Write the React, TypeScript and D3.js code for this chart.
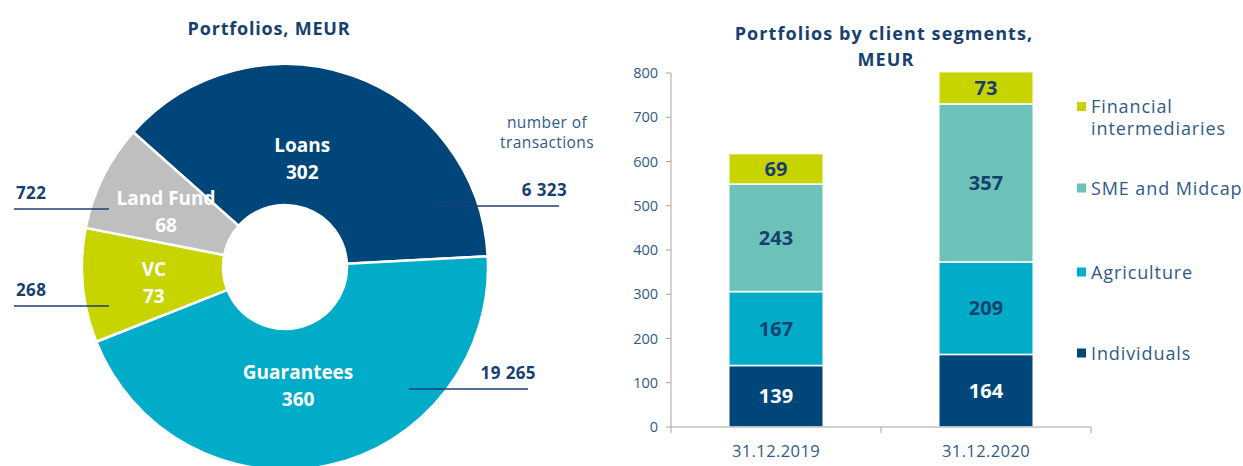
import React from 'react';
import * as d3 from 'd3';

// ---------- Data ----------
const portfolioTypes = ['Loans', 'Guarantees', 'VC', 'Land Fund'];
const portfolioValues = [302, 360, 73, 68];
const transactionCounts = ['6 323', '19 265', '268', '722'];
const portfolioColors = ['#00467a', '#00acc8', '#c8d400', '#bfbfbf'];

const segmentDates = ['31.12.2019', '31.12.2020'];
const segmentNames = ['Individuals', 'Agriculture', 'SME and Midcap', 'Financial intermediaries'];
const individuals = [139, 164];
const agriculture = [167, 209];
const smeMidcap = [243, 357];
const financialIntermediaries = [69, 73];
const segmentColors = ['#00467a', '#00acc8', '#6cc2b8', '#c8d400'];
const segmentLabelColors = ['#ffffff', '#16416f', '#16416f', '#16416f'];
const yTicks = [0, 100, 200, 300, 400, 500, 600, 700, 800];

// ---------- Layout ----------
const W = 1243;
const H = 466;
const FONT = "'Open Sans', 'DejaVu Sans', sans-serif";
const NAVY = '#16416f';
const AXIS_TEXT = '#2f5b88';

const cx = 285;
const cy = 267;
const outerR = 203;
const innerR = 62;
const startDeg = -48.4;

// label placement (polar: degrees clockwise from 12 o'clock, radius)
const sliceLabelPolar: Record<string, [number, number]> = {
  Loans: [9, 110],
  Guarantees: [173.7, 119],
  VC: [263.5, 132],
  'Land Fund': [295.2, 131.5],
};
// transaction annotation layout: [lineX1, lineX2, lineY, textAnchor]
const annotLayout: Record<string, [number, number, number, 'start' | 'end']> = {
  Loans: [440, 559, 206, 'end'],
  Guarantees: [409, 528, 389, 'end'],
  VC: [14, 109, 306, 'start'],
  'Land Fund': [14, 109, 209, 'start'],
};

const plot = { left: 671, right: 1091, top: 73, bottom: 427 };

export default function App() {
  const rad = (d: number) => (d * Math.PI) / 180;

  const pieData = portfolioTypes.map((t, i) => ({
    type: t,
    value: portfolioValues[i],
    color: portfolioColors[i],
    tx: transactionCounts[i],
  }));
  const pie = d3
    .pie<any>()
    .sort(null)
    .value((d: any) => d.value)
    .startAngle(rad(startDeg))
    .endAngle(rad(startDeg) + 2 * Math.PI);
  const arcs = pie(pieData);
  const arcGen = d3.arc<any>().innerRadius(innerR).outerRadius(outerR);

  // Bars
  const rows = segmentDates.map((d, i) => ({
    date: d,
    Individuals: individuals[i],
    Agriculture: agriculture[i],
    'SME and Midcap': smeMidcap[i],
    'Financial intermediaries': financialIntermediaries[i],
  }));
  const stack = d3.stack<any>().keys(segmentNames);
  const series = stack(rows);
  const x = d3
    .scaleBand()
    .domain(segmentDates)
    .range([plot.left, plot.right])
    .paddingInner(0.55)
    .paddingOuter(0.275);
  const y = d3.scaleLinear().domain([0, 800]).range([plot.bottom, plot.top]);

  const legendY: Record<string, number> = {
    'Financial intermediaries': 106.5,
    'SME and Midcap': 188,
    Agriculture: 272,
    Individuals: 353,
  };

  return (
    <div style={{ position: 'absolute', left: 0, top: 0 }}>
      <svg width={W} height={H} style={{ display: 'block', fontFamily: FONT }}>
        <rect width={W} height={H} fill="#ffffff" />

        {/* Left title */}
        <text x={269} y={35} textAnchor="middle" fontSize={18} fontWeight={700} fill={NAVY} letterSpacing={0.8}>
          Portfolios, MEUR
        </text>

        {/* Donut */}
        <g transform={`translate(${cx},${cy})`}>
          {arcs.map((a) => (
            <path
              key={a.data.type}
              d={arcGen(a) || ''}
              fill={a.data.color}
              stroke="#ffffff"
              strokeWidth={2.5}
            />
          ))}
          {arcs.map((a) => {
            const [deg, r] = sliceLabelPolar[a.data.type];
            const lx = Math.sin(rad(deg)) * r;
            const ly = -Math.cos(rad(deg)) * r;
            return (
              <text
                key={a.data.type + 'l'}
                x={lx}
                y={ly}
                textAnchor="middle"
                fontSize={19}
                fontWeight={700}
                fill="#ffffff"
              >
                <tspan x={lx} dy={-6}>{a.data.type}</tspan>
                <tspan x={lx} dy={27}>{a.value}</tspan>
              </text>
            );
          })}
        </g>

        {/* Transactions annotations */}
        <text x={547} y={128} textAnchor="middle" fontSize={15.5} fill={AXIS_TEXT} letterSpacing={0.4}>
          <tspan x={547} dy={0}>number of</tspan>
          <tspan x={547} dy={20}>transactions</tspan>
        </text>
        {pieData.map((d) => {
          const [x1, x2, ly, anchor] = annotLayout[d.type];
          const tx = anchor === 'end' ? x2 + 8 : x1 + 2;
          return (
            <g key={d.type + 'a'}>
              <line x1={x1} x2={x2} y1={ly} y2={ly} stroke="#1f3f75" strokeWidth={1.5} />
              <text
                x={tx}
                y={ly - 10}
                textAnchor={anchor}
                fontSize={17}
                fontWeight={700}
                fill={NAVY}
                letterSpacing={0.4}
              >
                {d.tx}
              </text>
            </g>
          );
        })}

        {/* Right title */}
        <text x={884} y={40} textAnchor="middle" fontSize={18} fontWeight={700} fill={NAVY} letterSpacing={1.1}>
          Portfolios by client segments,
        </text>
        <text x={886} y={66} textAnchor="middle" fontSize={18} fontWeight={700} fill={NAVY} letterSpacing={1.1}>
          MEUR
        </text>

        {/* Y axis */}
        <line x1={plot.left} x2={plot.left} y1={plot.top} y2={plot.bottom} stroke="#a6a6a6" strokeWidth={1} />
        {yTicks.map((t) => (
          <g key={t}>
            <line x1={plot.left - 5} x2={plot.left} y1={y(t)} y2={y(t)} stroke="#a6a6a6" />
            <text x={plot.left - 13} y={y(t) + 5} textAnchor="end" fontSize={14.5} fill={AXIS_TEXT}>
              {t}
            </text>
          </g>
        ))}

        {/* Bars */}
        {series.map((s, si) => (
          <g key={s.key}>
            {s.map((d, i) => {
              const bx = x(segmentDates[i]) as number;
              const y0 = y(d[0]);
              const y1 = y(d[1]);
              return (
                <g key={i}>
                  <rect
                    x={bx}
                    y={y1}
                    width={x.bandwidth()}
                    height={y0 - y1}
                    fill={segmentColors[si]}
                    stroke="#ffffff"
                    strokeWidth={1.5}
                  />
                  <text
                    x={bx + x.bandwidth() / 2}
                    y={(y0 + y1) / 2 + 7}
                    textAnchor="middle"
                    fontSize={20}
                    fontWeight={700}
                    fill={segmentLabelColors[si]}
                  >
                    {d[1] - d[0]}
                  </text>
                </g>
              );
            })}
          </g>
        ))}

        {/* X axis */}
        <line x1={plot.left} x2={plot.right} y1={plot.bottom} y2={plot.bottom} stroke="#a6a6a6" strokeWidth={1.2} />
        {[plot.left, (plot.left + plot.right) / 2, plot.right].map((tx, i) => (
          <line key={i} x1={tx} x2={tx} y1={plot.bottom} y2={plot.bottom + 6} stroke="#a6a6a6" />
        ))}
        {segmentDates.map((d) => (
          <text
            key={d}
            x={(x(d) as number) + x.bandwidth() / 2}
            y={456.5}
            textAnchor="middle"
            fontSize={16.5}
            fill={AXIS_TEXT}
            letterSpacing={0.4}
          >
            {d}
          </text>
        ))}

        {/* Legend */}
        {segmentNames.map((n, i) => {
          const ly = legendY[n];
          const words = n === 'Financial intermediaries' ? ['Financial', 'intermediaries'] : [n];
          return (
            <g key={n}>
              <rect x={1077} y={ly - 4.5} width={9} height={9} fill={segmentColors[i]} />
              <text x={1091} y={ly + 6.5} fontSize={18} fill={AXIS_TEXT} letterSpacing={0.9}>
                {words.map((w, wi) => (
                  <tspan key={wi} x={1091} dy={wi === 0 ? 0 : 22}>
                    {w}
                  </tspan>
                ))}
              </text>
            </g>
          );
        })}
      </svg>
    </div>
  );
}
